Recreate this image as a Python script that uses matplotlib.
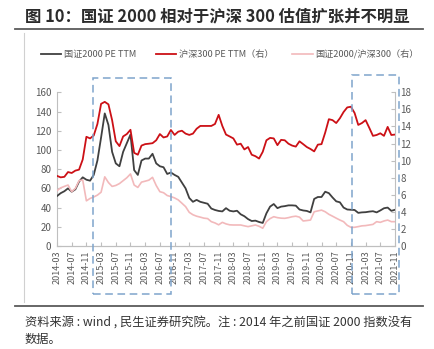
import matplotlib
matplotlib.use("Agg")
import matplotlib.pyplot as plt
from matplotlib.lines import Line2D
from matplotlib.patches import Rectangle
import matplotlib.transforms as mtransforms
import pandas as pd

plt.rcParams['font.family'] = ['Noto Sans CJK SC', 'DejaVu Sans']

months = [p.strftime('%Y-%m') for p in pd.period_range('2014-03', '2021-11', freq='M')]

# 国证2000 PE TTM (left axis)
gz2000_pe = [52, 55, 57, 60, 56.5, 59, 67, 71.5, 69, 68,
             74, 89, 113, 138, 126, 98, 86, 83, 98, 107,
             116, 79, 74, 89, 91, 91, 96, 86, 83, 82,
             75, 76.5, 74, 72, 66, 60, 50, 46, 48, 46,
             45, 44, 39, 37.5, 36.5, 36, 39.4, 36.7, 36, 36.7,
             33, 31, 28, 26, 26.4, 25, 24, 34, 41, 43.7,
             39.4, 41, 41.5, 42.3, 42.3, 42, 38, 37, 36.5, 35,
             49, 51, 51, 56.5, 55, 50.5, 46.5, 45.5, 40, 38,
             37.7, 37.5, 34.5, 35, 35.2, 35.8, 36.2, 35, 37, 39.3,
             40, 36.6, 37.7]

# 沪深300 PE TTM (right axis)
hs300_pe = [8.21, 8.04, 8.10, 8.66, 8.55, 8.83, 8.94, 10.13, 12.79, 12.60,
            12.94, 14.29, 16.65, 16.88, 16.59, 14.74, 12.26, 11.70, 12.83, 13.11,
            13.61, 10.91, 10.69, 11.76, 11.93, 11.98, 12.04, 12.38, 13.11, 12.71,
            12.83, 13.59, 13.01, 13.39, 13.50, 13.16, 13.01, 13.16, 13.73, 14.06,
            14.06, 14.06, 14.06, 14.29, 15.36, 14.06, 13.05, 12.83, 12.60, 11.87,
            11.98, 11.31, 11.59, 10.69, 10.52, 10.24, 11.03, 12.38, 12.66, 12.60,
            11.81, 12.43, 12.38, 11.98, 11.76, 11.64, 12.26, 11.93, 11.59, 11.36,
            11.08, 11.87, 11.93, 13.28, 14.85, 14.74, 14.40, 14.96, 15.69, 16.23,
            16.31, 15.58, 14.18, 14.40, 14.74, 13.84, 12.90, 13.00, 13.20, 12.90,
            13.95, 13.00, 13.05]

# 国证2000/沪深300 (right axis)
ratio = [6.48, 6.81, 6.98, 7.14, 6.36, 6.75, 7.65, 7.73, 5.29, 5.57,
         5.74, 5.96, 6.30, 8.10, 7.43, 6.98, 7.09, 7.31, 7.65, 7.99,
         8.44, 7.14, 6.86, 7.48, 7.59, 7.71, 8.04, 7.09, 6.36, 6.24,
         5.91, 5.79, 5.63, 5.40, 5.01, 4.61, 3.94, 3.66, 3.49, 3.38,
         3.26, 3.21, 2.85, 2.70, 2.48, 2.77, 2.59, 2.48, 2.46, 2.46,
         2.46, 2.36, 2.27, 2.36, 2.46, 2.31, 2.08, 2.85, 3.21, 3.43,
         3.32, 3.26, 3.24, 3.32, 3.43, 3.49, 3.38, 2.93, 2.98, 3.04,
         4.01, 4.11, 4.20, 4.01, 3.71, 3.49, 3.26, 3.04, 2.85, 2.42,
         2.19, 2.19, 2.27, 2.36, 2.39, 2.46, 2.53, 2.85, 2.77, 2.93,
         3.04, 2.85, 2.85]

left_ticks = [0, 20, 40, 60, 80, 100, 120, 140, 160]
right_ticks = [0, 2, 4, 6, 8, 10, 12, 14, 16, 18]

W, H = 435, 349
fig = plt.figure(figsize=(W / 100, H / 100), dpi=100)
ax = fig.add_axes([57 / W, 1 - 246 / H, (395 - 57) / W, (246 - 92.3) / H])
ax2 = ax.twinx()

x = list(range(len(months)))
l1, = ax.plot(x, gz2000_pe, color='#404040', lw=1.3, label='国证2000 PE TTM', zorder=3)
l2, = ax2.plot(x, hs300_pe, color='#cc1016', lw=1.3, label='沪深300 PE TTM（右）', zorder=3)
l3, = ax2.plot(x, ratio, color='#f2b9bb', lw=1.2, label='国证2000/沪深300（右）', zorder=2)

ax.set_xlim(0, len(months) - 1)
ax.set_ylim(0, 160)
ax2.set_ylim(0, 18)
ax.set_yticks(left_ticks)
ax2.set_yticks(right_ticks)
ax.set_xticks(x[::4])
ax.set_xticklabels(months[::4], rotation=90, fontsize=6.5, color='#595959')

for a in (ax, ax2):
    a.spines['top'].set_visible(False)
    for s in ('left', 'right', 'bottom'):
        a.spines[s].set_color('#bfbfbf')
        a.spines[s].set_linewidth(0.8)
    a.tick_params(axis='y', direction='in', length=3, width=0.8, color='#bfbfbf',
                  labelsize=7, labelcolor='#595959', pad=4)
ax.tick_params(axis='x', direction='in', length=3, width=0.8, color='#bfbfbf', pad=3)
ax2.spines['left'].set_visible(False)
ax.spines['right'].set_visible(False)

# dashed highlight boxes
trans = mtransforms.blended_transform_factory(ax.transData, ax.transAxes)
for (x0, x1, ytop) in [(9.8, 31.0, 1.093), (80.2, 93.1, 1.113)]:
    r = Rectangle((x0, -0.312), x1 - x0, ytop + 0.312, transform=trans, fill=False,
                  edgecolor='#7ea4cc', lw=1.1, ls=(0, (5, 3)), clip_on=False, zorder=5)
    ax2.add_patch(r)

# legend
fig.legend(handles=[l1, l2, l3], loc='center left', bbox_to_anchor=(33 / W, 1 - 54.5 / H),
           ncol=3, frameon=False, fontsize=6.6, handlelength=2.2, handletextpad=0.3,
           columnspacing=2.1, labelcolor='#595959')

# title, rules and source
fig.text(25 / W, 1 - 16 / H, '图 10：国证 2000 相对于沪深 300 估值扩张并不明显',
         fontsize=11.8, fontweight='bold', color='#2b2b2b', va='center', ha='left')
fig.add_artist(Line2D([15 / W, 423 / W], [1 - 29.3 / H] * 2, color='#5a5a5a', lw=1.3))
fig.add_artist(Line2D([24 / W] * 2, [1 - 33 / H, 1 - 302 / H], color='#d0d0d0', lw=0.8))
fig.add_artist(Line2D([15 / W, 423 / W], [1 - 306 / H] * 2, color='#5a5a5a', lw=1.3))
fig.text(25 / W, 1 - 322 / H, '资料来源 : wind , 民生证券研究院。注 : 2014 年之前国证 2000 指数没有',
         fontsize=8.8, color='#333333', va='center', ha='left')
fig.text(25 / W, 1 - 339 / H, '数据。', fontsize=8.8, color='#333333', va='center', ha='left')

fig.savefig('out.png', dpi=100)
